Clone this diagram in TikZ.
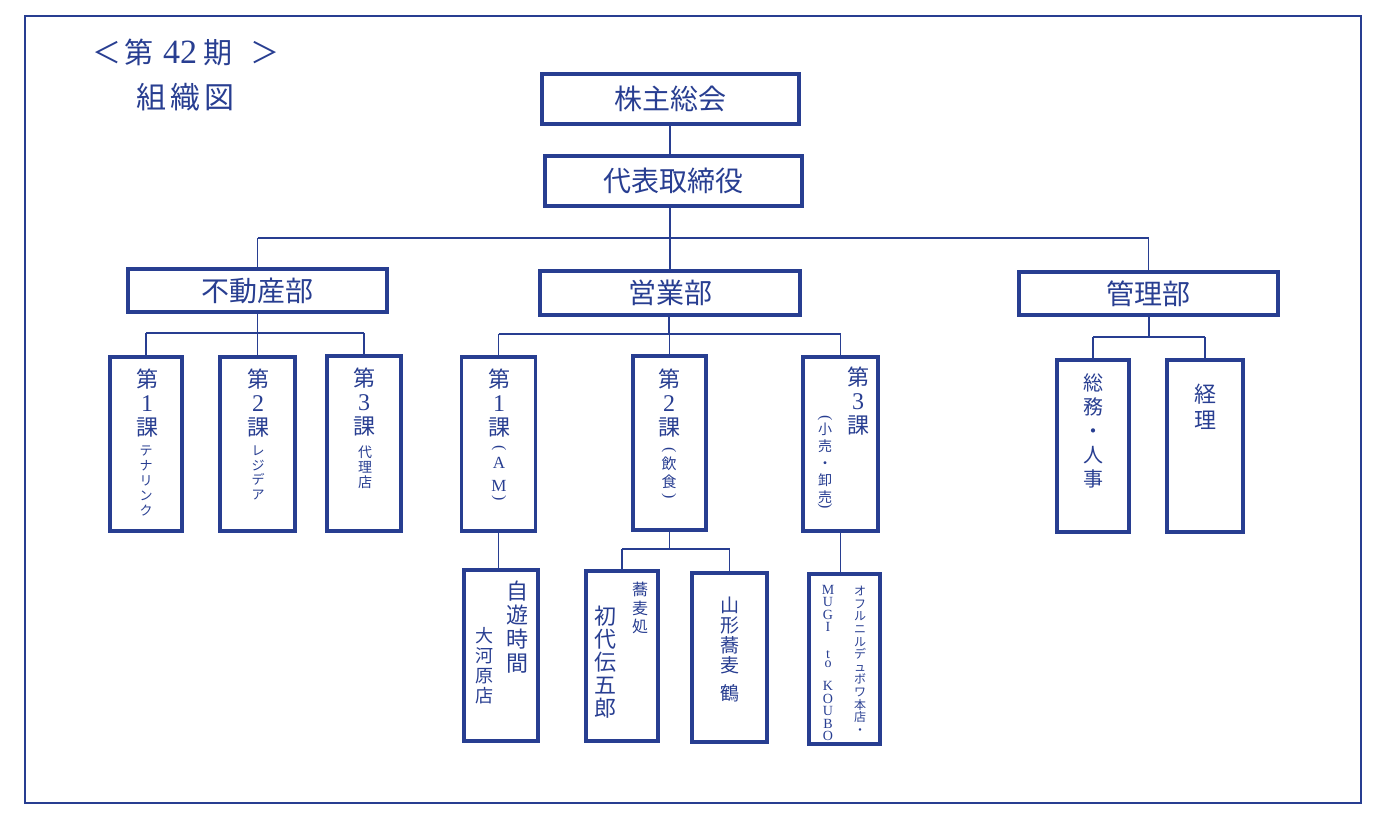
\documentclass[tikz,border=0pt]{standalone}
\usepackage{fontspec}
\setmainfont{Noto Sans CJK JP}
\newfontfamily\lat{Liberation Serif}
\definecolor{navy}{RGB}{40,62,145}
\newcommand\dg[1]{{\lat\fontsize{24}{24}\selectfont #1}}
\newcommand\ltr[1]{{\lat\fontsize{17}{17}\selectfont #1}}
\lineskiplimit=-30pt
\lineskip=0pt
\tikzset{
  frame/.style={draw=navy, line width=2pt},
  box/.style={draw=navy, line width=3.6pt, rectangle, inner sep=0pt, outer sep=0pt},
  conn/.style={draw=navy, line width=1.2pt},
  lbl/.style={text=navy, inner sep=0pt, font=\fontsize{28}{28}\selectfont},
  vt/.style 2 args={text=navy, inner sep=0pt, align=center, anchor=north,
     font=\fontsize{#1}{#2}\selectfont},
  vpar/.style={text=navy, inner sep=0pt, rotate=-90, font=\lat\fontsize{16}{16}\selectfont}
}
\begin{document}
\begin{tikzpicture}[x=1pt,y=-1pt]
\useasboundingbox (0,0) rectangle (1380,816);
\draw[frame] (25,16) rectangle (1361,803);

% title
\node[text=navy, inner sep=0pt, anchor=west, font=\fontsize{29}{29}\selectfont] (title1) at (92,52) {＜\hspace{3pt}第\hspace{10pt}{\lat\fontsize{34}{34}\selectfont 42}\hspace{6pt}期\hspace{18pt}＞};
\node[text=navy, inner sep=0pt, anchor=west, font=\fontsize{30}{30}\selectfont] (title2) at (136,97) {組\hspace{4pt}織\hspace{4pt}図};

% top boxes
\node[box, minimum width=257, minimum height=50] (kabu) at (670.5,99) {};
\node[lbl] (kabut) at (kabu.center) {株主総会};
\node[box, minimum width=257, minimum height=50] (daihyo) at (673.5,181) {};
\node[lbl] (daihyot) at (daihyo.center) {代表取締役};

% departments
\node[box, minimum width=259, minimum height=43] (fudo) at (257.5,290.5) {};
\node[lbl] (fudot) at (fudo.center) {不動産部};
\node[box, minimum width=260, minimum height=44] (eigyo) at (670,293) {};
\node[lbl] (eigyot) at (eigyo.center) {営業部};
\node[box, minimum width=259, minimum height=43] (kanri) at (1148.5,293.5) {};
\node[lbl] (kanrit) at (kanri.center) {管理部};

% sections
\node[box, minimum width=72, minimum height=174] (f1) at (146,444) {};
\node[box, minimum width=75, minimum height=174] (f2) at (257.5,444) {};
\node[box, minimum width=74, minimum height=175] (f3) at (364,443.5) {};
\node[box, minimum width=74, minimum height=174] (e1) at (498.5,444) {};
\node[box, minimum width=73, minimum height=174] (e2) at (669.5,443) {};
\node[box, minimum width=75, minimum height=174] (e3) at (840.5,444) {};
\node[box, minimum width=72, minimum height=172] (k1) at (1093,446) {};
\node[box, minimum width=76, minimum height=172] (k2) at (1205,446) {};

% shops
\node[box, minimum width=74, minimum height=171] (s1) at (501,655.5) {};
\node[box, minimum width=72, minimum height=170] (s2) at (622,656) {};
\node[box, minimum width=75, minimum height=169] (s3) at (729.5,657.5) {};
\node[box, minimum width=71, minimum height=170] (s4) at (844.5,659) {};

% connectors
\coordinate (bus0) at (670,238);
\draw[conn] (kabu.south -| bus0) -- (daihyo.north -| bus0);
\draw[conn] (daihyo.south -| bus0) -- (bus0);
\draw[conn] (fudo.north |- bus0) -- (kanri.north |- bus0);
\draw[conn] (fudo.north |- bus0) -- (fudo.north);
\draw[conn] (bus0) -- (bus0 |- eigyo.north);
\draw[conn] (kanri.north |- bus0) -- (kanri.north);

\coordinate (bus1) at (258,333);
\draw[conn] (fudo.south) -- (fudo.south |- bus1);
\draw[conn] (f1.north |- bus1) -- (f3.north |- bus1);
\draw[conn] (f1.north |- bus1) -- (f1.north);
\draw[conn] (f2.north |- bus1) -- (f2.north);
\draw[conn] (f3.north |- bus1) -- (f3.north);

\coordinate (bus2) at (669,334);
\draw[conn] (eigyo.south -| bus2) -- (bus2);
\draw[conn] (e1.north |- bus2) -- (e3.north |- bus2);
\draw[conn] (e1.north |- bus2) -- (e1.north);
\draw[conn] (e2.north |- bus2) -- (e2.north);
\draw[conn] (e3.north |- bus2) -- (e3.north);

\coordinate (bus3) at (1149,337);
\draw[conn] (kanri.south -| bus3) -- (bus3);
\draw[conn] (k1.north |- bus3) -- (k2.north |- bus3);
\draw[conn] (k1.north |- bus3) -- (k1.north);
\draw[conn] (k2.north |- bus3) -- (k2.north);

\draw[conn] (e1.south) -- (e1.south |- s1.north);
\coordinate (bus4) at (669.5,549);
\draw[conn] (e2.south) -- (bus4);
\draw[conn] (s2.north |- bus4) -- (s3.north |- bus4);
\draw[conn] (s2.north |- bus4) -- (s2.north);
\draw[conn] (s3.north |- bus4) -- (s3.north);
\draw[conn] (e3.south) -- (e3.south |- s4.north);

% section texts
\node[vt={22}{24}] (f1a) at (147,369) {第\\{\dg{1}}\\課};
\node[vt={13}{15}] (f1b) at (146,446) {テ\\ナ\\リ\\ン\\ク};
\node[vt={22}{24}] (f2a) at (258,369) {第\\{\dg{2}}\\課};
\node[vt={13}{14.5}] (f2b) at (258,446) {レ\\ジ\\デ\\ア};
\node[vt={22}{24}] (f3a) at (364,368) {第\\{\dg{3}}\\課};
\node[vt={14}{15}] (f3b) at (365,446) {代\\理\\店};

\node[vt={22}{24}] (e1a) at (499,369) {第\\{\dg{1}}\\課};
\node[vpar] (e1l) at (499,448) {(};
\node[vt={17}{23}, font=\lat\fontsize{17}{23}\selectfont] (e1b) at (499,457) {A\\M};
\node[vpar] (e1r) at (499,498) {)};

\node[vt={22}{24}] (e2a) at (669,369) {第\\{\dg{2}}\\課};
\node[vpar] (e2l) at (669,450) {(};
\node[vt={15}{18}] (e2b) at (669,457) {飲\\食};
\node[vpar] (e2r) at (669,496) {)};

\node[vt={22}{24}] (e3a) at (858,367) {第\\{\dg{3}}\\課};
\node[vpar] (e3l) at (825,418) {(};
\node[vt={14}{17}] (e3b) at (825,423) {小\\売\\・\\卸\\売};
\node[vpar] (e3r) at (825,506) {)};

\node[vt={20}{24}] (k1a) at (1093,373) {総\\務\\・\\人\\事};
\node[vt={22}{26}] (k2a) at (1205,384) {経\\理};

% shop texts
\node[vt={22}{24}] (s1a) at (517,581) {自\\遊\\時\\間};
\node[vt={18}{20}] (s1b) at (484,627) {大\\河\\原\\店};
\node[vt={16}{18.5}] (s2a) at (640,582) {蕎\\麦\\処};
\node[vt={22}{23}] (s2b) at (605,606) {初\\代\\伝\\五\\郎};
\node[vt={19}{20}] (s3a) at (730,597) {山\\形\\蕎\\麦\\[8pt]鶴};
\node[vt={12}{12.6}] (s4a) at (860,586) {オ\\フ\\ル\\ニ\\ル\\デ\\ュ\\ボ\\ワ\\本\\店\\・};
\node[vt={14}{12.5}, font=\lat\fontsize{14}{12.5}\selectfont] (s4b) at (828,585) {M\\U\\G\\I\\[14.5pt]t\\[-3.5pt]o\\[10.5pt]K\\O\\U\\B\\O};
\end{tikzpicture}
\end{document}
